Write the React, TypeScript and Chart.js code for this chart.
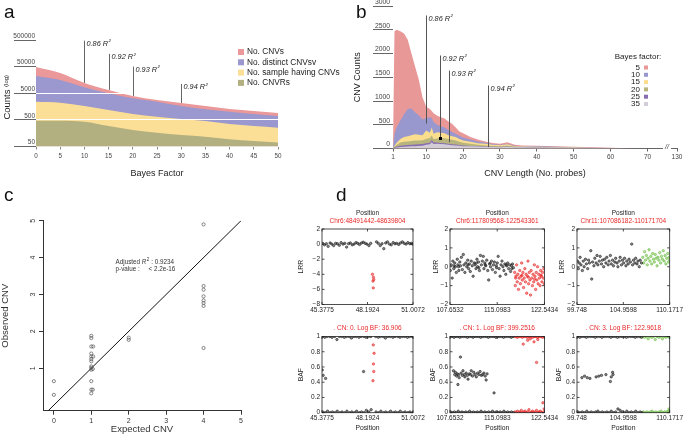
import React, { useEffect, useRef } from "react";
import { Chart, registerables } from "chart.js";
Chart.register(...registerables);

const FONT = "'Liberation Sans', Arial, Helvetica, sans-serif";
Chart.defaults.font.family = FONT;

// ---------- Panel a ----------
const bayesFactor = [0, 5, 10, 15, 20, 25, 30, 35, 40, 45, 50];
const noCNVs = [48700, 29000, 12200, 6650, 3960, 2800, 2160, 1670, 1285, 1080, 910];
const noDistinctCNVsv = [22400, 15800, 8400, 5000, 3240, 2420, 1670, 1250, 1015, 833, 700];
const noSampleHavingCNVs = [2420, 2220, 1670, 1180, 833, 660, 541, 455, 351, 295, 255];
const noCNVRs = [467, 467, 428, 295, 209, 165, 135, 117, 93, 80, 70];
const aLegend = ["No. CNVs", "No. distinct CNVsv", "No. sample having CNVs", "No. CNVRs"];
const aXTicks = [0, 5, 10, 15, 20, 25, 30, 35, 40, 45, 50];
const aYTicks = [50, 500, 5000, 50000, 500000];
const aR2Labels = ["0.86", "0.92", "0.93", "0.94"];
const aR2X = [10, 15, 20, 30];
const aR2Top = [474000, 150000, 50000, 11200];
const aR2Bottom = [12200, 6650, 3960, 2160];

// ---------- Panel b ----------
const cnvLength = [1, 1.4, 2, 3, 4, 5, 6, 7, 8, 9, 10, 11, 11.5, 12, 13, 14, 15, 16, 17, 18, 19, 20, 22, 24, 26, 28, 30, 32, 34, 36, 40, 45, 50, 55, 60, 65, 70];
const bf5 = [0, 2470, 2500, 2470, 2420, 2290, 2000, 1720, 1450, 1080, 880, 830, 790, 740, 690, 660, 630, 570, 520, 440, 360, 320, 240, 190, 150, 115, 100, 130, 80, 65, 60, 50, 35, 25, 15, 5, 0];
const bf10 = [0, 300, 450, 590, 720, 830, 840, 760, 700, 610, 640, 660, 640, 560, 500, 470, 440, 390, 350, 310, 270, 230, 190, 150, 120, 95, 80, 100, 60, 50, 45, 35, 25, 15, 8, 3, 0];
const bf15 = [0, 60, 120, 200, 240, 260, 280, 300, 290, 280, 380, 330, 440, 310, 340, 330, 320, 280, 260, 240, 200, 170, 140, 110, 100, 80, 70, 90, 50, 40, 35, 25, 20, 10, 5, 2, 0];
const bf20 = [0, 40, 80, 125, 140, 150, 160, 170, 170, 175, 200, 220, 275, 200, 210, 225, 215, 200, 185, 170, 140, 120, 100, 80, 65, 55, 50, 60, 40, 30, 25, 20, 15, 8, 4, 1, 0];
const bf25 = [0, 20, 40, 60, 70, 75, 80, 85, 90, 95, 110, 120, 180, 130, 125, 115, 110, 100, 90, 85, 75, 65, 55, 45, 40, 35, 30, 40, 28, 25, 22, 18, 12, 6, 3, 1, 0];
const bf35 = [0, 10, 20, 30, 35, 40, 45, 50, 55, 60, 80, 90, 130, 95, 100, 95, 90, 80, 70, 65, 60, 50, 45, 40, 35, 30, 28, 35, 26, 25, 22, 20, 15, 10, 4, 1, 0];
const bLegend = ["5", "10", "15", "20", "25", "35"];
const bXTickValues = [1, 10, 20, 30, 40, 50, 60, 70, 78];
const bXTickLabels = ["1", "10", "20", "30", "40", "50", "60", "70", "130"];
const bYTicks = [0, 500, 1000, 1500, 2000, 2500, 3000];
const bR2Labels = ["0.86", "0.92", "0.93", "0.94"];
const bR2L = [9.9, 13.8, 16.2, 26.7];
const bR2Top = [2800, 1958, 1640, 1326];
const bR2Bottom = [526, 210, 133, 30];

// ---------- Panel c ----------
const cObserved: [number, number][] = [
  [0, 0.65], [0, 0.28], [1, 1.88], [1, 1.82], [1, 1.59], [1.05, 1.59], [1, 1.4], [1, 1.32], [1.05, 1.32],
  [1, 1.25], [1, 1.19], [1, 1.05], [1, 1.01], [1, 0.96], [1.04, 0.98], [1, 0.65], [1, 0.42], [1, 0.32],
  [1.04, 0.42], [2, 1.83], [2, 1.77], [4, 4.9], [4, 3.23], [4, 3.13], [4, 2.95], [4, 2.84], [4, 2.77],
  [4, 2.69], [4, 1.55],
];
const cFitX = [-0.15, 5];
const cFitY = [-0.15, 5];
const cXTicks = [0, 1, 2, 3, 4, 5];
const cYTicks = [1, 2, 3, 4, 5];

// ---------- Panel d ----------
const d1XTicks = [45.3775, 48.1924, 51.0072];
const d2XTicks = [107.6532, 115.0983, 122.5434];
const d3XTicks = [99.748, 104.9598, 110.1717];
const d1LrrTicks = [-8, -6, -4, -2, 0, 2];
const dLrrTicks = [-2, -1, 0, 1, 2];
const bafTicks = [0, 0.2, 0.4, 0.6, 0.8, 1];
const dRegions = ["Chr6:48491442-48639804", "Chr6:117809568-122543361", "Chr11:107086182-110171704"];
const dCalls = [". CN: 0. Log BF: 36.906", ". CN: 1. Log BF: 399.2516", ". CN: 3. Log BF: 122.9618"];

const d1LrrBlack: [number, number][] = [[45.42,0.1],[45.53,-0.1],[45.65,0.05],[45.76,-0.3],[45.88,0.15],[45.99,0],[46.1,-0.2],[46.22,0.1],[46.33,0.05],[46.45,-0.15],[46.56,0.2],[46.68,0],[46.79,0.1],[46.9,-0.4],[47.02,0.05],[47.13,0.15],[47.25,-0.1],[47.36,0],[47.48,0.2],[47.59,0.1],[47.7,-0.05],[47.82,0.15],[47.93,0.25],[48.05,0.1],[48.16,0],[48.28,-0.2],[48.39,0.1],[48.75,0.3],[48.86,0.1],[48.98,-0.2],[49.09,0.05],[49.2,-0.6],[49.32,0.15],[49.43,0.3],[49.55,0],[49.66,-0.1],[49.78,0.2],[49.89,0.05],[50.0,0.1],[50.12,-0.05],[50.23,0.15],[50.35,0.3],[50.46,0.1],[50.58,0],[50.69,0.2],[50.81,0.05],[50.92,0.1],[50.99,0]];
const d1LrrRed: [number, number][] = [[48.5,-4.0],[48.56,-4.4],[48.58,-4.7],[48.53,-4.9],[48.55,-5.8]];
const d1BafBlack: [number, number][] = [[45.4,1],[45.55,0.99],[45.7,1],[45.86,1],[46.0,0.99],[46.16,1],[46.3,0.96],[46.46,1],[46.6,1],[46.76,0.99],[46.9,1],[47.06,1],[47.2,0.98],[47.36,1],[47.5,1],[47.66,0.99],[47.8,1],[47.96,1],[48.1,0.99],[48.26,1],[48.4,1],[48.7,1],[48.86,0.99],[49.0,1],[49.16,1],[49.3,0.98],[49.46,1],[49.6,1],[49.76,0.99],[49.9,1],[50.06,1],[50.2,0.99],[50.36,1],[50.5,1],[50.66,0.99],[50.8,1],[50.96,1],
  [45.42,0.01],[45.57,0],[45.72,0.02],[45.88,0],[46.02,0.01],[46.18,0],[46.32,0.02],[46.48,0],[46.62,0.01],[46.78,0],[46.92,0.02],[47.08,0],[47.22,0.01],[47.38,0],[47.52,0.02],[47.68,0],[47.82,0.01],[47.98,0],[48.12,0.03],[48.28,0.01],[48.42,0.04],[48.72,0.01],[48.88,0],[49.02,0.02],[49.18,0],[49.32,0.01],[49.48,0],[49.62,0.02],[49.78,0],[49.92,0.01],[50.08,0],[50.22,0.02],[50.38,0],[50.52,0.01],[50.68,0],[50.82,0.01],[50.98,0],
  [45.39,0.56],[45.45,0.49],[45.6,0.45],[47.95,0.54]];
const d1BafRed: [number, number][] = [[48.55,0.89],[48.6,0.78],[48.56,0.64],[48.58,0.54],[48.53,0.42]];

const d2LrrBlack: [number, number][] = [[107.7,-0.2],[107.85,0.1],[108.0,-0.6],[108.1,0.3],[108.25,-0.1],[108.4,0.2],[108.5,0.0],[108.65,-0.3],[108.8,0.4],[108.9,0.1],[109.05,-0.2],[109.2,0.25],[109.3,0.05],[109.45,0.5],[109.6,-0.15],[109.75,0.65],[109.85,0.1],[110.0,-0.3],[110.15,0.2],[110.3,0.0],[110.45,0.35],[110.6,-0.1],[110.7,0.15],[110.85,-0.25],[111.0,0.3],[111.15,0.05],[111.3,-0.5],[111.45,0.2],[111.6,0.1],[111.75,-0.1],[111.9,0.4],[112.0,0.0],[112.15,0.25],[112.3,-0.2],[112.45,0.6],[112.6,0.1],[112.75,0.3],[112.9,0.55],[113.0,-0.1],[113.15,0.2],[113.3,0.05],[113.45,0.35],[113.6,-0.2],[113.75,-0.7],[113.9,0.15],[114.05,0.0],[114.2,0.3],[114.35,-0.15],[114.5,0.1],[114.65,0.25],[114.8,-0.3],[114.95,0.05],[115.1,0.2],[115.25,0.55],[115.4,-0.1],[115.55,-0.5],[115.7,0.1],[115.85,0.3],[116.0,0.0],[116.15,-0.2],[116.3,0.15],[116.45,-0.4],[116.6,0.05],[116.75,0.2],[116.9,-0.1],[117.05,0.1],[117.2,-0.25],[117.35,0.05],[117.5,0.15],[117.65,-0.05],
  [108.3,0.05],[109.0,0.0],[110.5,0.1],[111.8,0.2],[112.2,-0.05],[113.2,0.1],[114.0,0.2],[115.0,-0.05],[116.5,0.1],[117.4,-0.1]];
const d2LrrRed: [number, number][] = [[117.85,-0.3],[117.95,-1.0],[118.05,-0.5],[118.15,0.1],[118.25,-0.8],[118.35,-0.4],[118.45,-1.2],[118.55,-0.6],[118.65,-0.2],[118.75,-0.9],[118.85,-0.5],[118.95,0.2],[119.05,-0.7],[119.15,-0.3],[119.25,-1.1],[119.35,-0.6],[119.45,-0.1],[119.55,-0.8],[119.65,-0.4],[119.75,-1.4],[119.85,-0.5],[119.95,0.3],[120.05,-0.9],[120.15,-0.3],[120.25,-0.7],[120.35,-1.5],[120.45,-0.2],[120.55,-0.6],[120.65,-1.0],[120.75,-0.4],[120.85,-0.8],[120.95,0.1],[121.05,-0.5],[121.15,-1.2],[121.25,-0.3],[121.35,-0.7],[121.45,0.0],[121.55,-0.9],[121.65,-0.4],[121.75,-0.6],[121.85,-1.0],[121.95,-0.2],[122.05,-0.5],[122.15,-0.8],[122.25,-0.3],[122.35,-0.6],[122.45,-0.1],[122.52,-0.9],
  [118.0,-0.6],[119.0,-0.45],[120.0,-0.55],[121.0,-0.65],[122.0,-0.45]];
const d2BafBlack: [number, number][] = [[107.7,1],[108.0,1],[108.3,0.99],[108.6,1],[108.9,1],[109.2,0.99],[109.5,1],[109.8,1],[110.1,1],[110.4,0.99],[110.7,1],[111.0,1],[111.3,0.99],[111.6,1],[111.9,1],[112.2,1],[112.5,0.99],[112.8,1],[113.1,1],[113.4,1],[113.7,0.99],[114.0,1],[114.3,1],[114.6,1],[114.9,0.99],[115.2,1],[115.5,1],[115.8,1],[116.1,0.99],[116.4,1],[116.7,1],[117.0,1],[117.3,0.99],[117.6,1],
  [107.75,0.01],[108.05,0],[108.35,0.01],[108.65,0],[108.95,0.02],[109.25,0],[109.55,0.01],[109.85,0],[110.15,0.01],[110.45,0],[110.75,0.02],[111.05,0],[111.35,0.01],[111.65,0],[111.95,0.01],[112.25,0],[112.55,0.02],[112.85,0],[113.15,0.01],[113.45,0],[113.75,0.01],[114.05,0],[114.35,0.02],[114.65,0],[114.95,0.01],[115.25,0],[115.55,0.01],[115.85,0],[116.15,0.02],[116.45,0],[116.75,0.01],[117.05,0],[117.35,0.01],[117.65,0],
  [108.2,0.55],[108.4,0.5],[108.5,0.53],[108.7,0.48],[108.8,0.51],[108.9,0.37],[109.0,0.5],[109.1,0.46],[109.3,0.73],[109.4,0.52],[109.6,0.49],[109.7,0.55],[109.9,0.5],[110.0,0.47],[110.2,0.52],[110.4,0.49],[110.5,0.44],[110.7,0.51],[110.9,0.5],[111.0,0.55],[111.2,0.48],[111.4,0.53],[111.6,0.5],[111.8,0.47],[112.0,0.52],[112.2,0.5],[112.4,0.54],[112.6,0.49],[112.8,0.5],[113.0,0.52],[113.2,0.48],[113.35,0.43],[113.5,0.51],[114.6,0.26]];
const d2BafRed: [number, number][] = [[117.85,1],[118.05,1],[118.25,0.99],[118.45,1],[118.65,1],[118.85,1],[119.05,0.99],[119.25,1],[119.45,1],[119.65,1],[119.85,0.99],[120.05,1],[120.25,1],[120.45,1],[120.65,0.99],[120.85,1],[121.05,1],[121.25,1],[121.45,0.99],[121.65,1],[121.85,1],[122.05,1],[122.25,0.99],[122.45,1],[119.2,0.9],[119.9,0.95],[120.3,0.97],[120.9,0.93],[121.5,0.96],[121.3,0.66],
  [117.9,0.01],[118.1,0],[118.3,0.02],[118.5,0],[118.7,0.01],[118.9,0.03],[119.1,0],[119.3,0.01],[119.5,0.02],[119.7,0],[119.9,0.01],[120.1,0.04],[120.3,0],[120.5,0.01],[120.7,0.02],[120.9,0],[121.1,0.01],[121.3,0.03],[121.5,0],[121.7,0.01],[121.9,0.02],[122.1,0],[122.3,0.13],[122.4,0.01],[122.5,0.05]];

const d3LrrBlack: [number, number][] = [[99.8,0.3],[99.9,-0.1],[100.0,0.2],[100.1,0.5],[100.2,0.1],[100.35,-0.2],[100.45,0.3],[100.55,0.0],[100.7,0.4],[100.8,0.15],[100.95,-0.1],[101.05,0.35],[101.15,0.2],[101.3,0.85],[101.4,-0.65],[101.5,0.25],[101.65,0.05],[101.75,0.45],[101.9,0.2],[102.0,0.6],[102.1,0.1],[102.25,0.3],[102.35,0.55],[102.5,0.15],[102.6,0.35],[102.75,0.0],[102.85,0.4],[103.0,0.2],[103.1,0.5],[103.25,0.1],[103.35,0.3],[103.5,0.6],[103.6,0.15],[103.75,0.35],[103.85,0.05],[104.0,0.25],[104.1,0.45],[104.25,0.2],[104.35,0.0],[104.5,0.3],[104.6,0.5],[104.75,0.1],[104.85,0.35],[105.0,0.2],[105.1,0.45],[105.25,0.05],[105.35,0.3],[105.5,0.15],[105.6,0.4],[105.75,0.25],[105.9,1.2],[106.0,0.1],[106.1,0.35],[106.25,0.2],[106.35,0.45],[106.5,0.15],[106.6,0.3],[106.75,0.0],[106.85,0.35],[107.0,0.2]];
const d3LrrGreen: [number, number][] = [[107.15,0.5],[107.25,0.2],[107.35,0.8],[107.45,0.35],[107.55,0.6],[107.65,0.1],[107.75,0.45],[107.85,0.9],[107.95,0.3],[108.05,0.55],[108.15,0.15],[108.25,0.7],[108.35,0.4],[108.45,0.25],[108.55,0.65],[108.65,0.45],[108.75,0.05],[108.85,0.5],[108.95,0.35],[109.05,0.75],[109.15,0.2],[109.25,0.55],[109.35,0.4],[109.45,0.85],[109.55,0.3],[109.65,0.6],[109.75,0.15],[109.85,0.45],[109.95,0.7],[110.05,0.25],[110.12,0.5],[110.17,0.35]];
const d3BafBlack: [number, number][] = [[99.8,1],[100.05,0.99],[100.3,1],[100.55,1],[100.8,0.99],[101.05,1],[101.3,1],[101.55,1],[101.8,0.99],[102.05,1],[102.3,1],[102.55,0.99],[102.8,1],[103.05,1],[103.3,1],[103.55,0.99],[103.8,1],[104.05,1],[104.3,0.99],[104.55,1],[104.8,1],[105.05,1],[105.3,0.99],[105.55,1],[105.8,1],[106.05,1],[106.3,0.99],[106.55,1],[106.8,1],[107.0,0.99],
  [99.85,0.01],[100.1,0],[100.35,0.01],[100.6,0],[100.85,0.02],[101.1,0],[101.35,0.01],[101.6,0],[101.85,0.01],[102.1,0.02],[102.35,0],[102.6,0.01],[102.85,0],[103.1,0.01],[103.35,0],[103.6,0.02],[103.85,0],[104.1,0.01],[104.35,0.05],[104.6,0.03],[104.85,0.01],[105.1,0],[105.35,0.02],[105.6,0],[105.85,0.01],[106.1,0],[106.35,0.02],[106.6,0],[106.85,0.01],[107.05,0],
  [100.3,0.46],[100.6,0.48],[100.9,0.46],[101.2,0.45],[101.9,0.47],[102.2,0.48],[102.5,0.49],[103.0,0.5],[103.5,0.41],[103.6,0.47],[103.75,0.53],[103.8,0.5]];
const d3BafGreen: [number, number][] = [[107.15,1],[107.35,0.99],[107.55,1],[107.75,0.97],[107.95,1],[108.15,0.99],[108.35,1],[108.55,0.96],[108.75,1],[108.95,0.99],[109.15,1],[109.35,0.97],[109.55,1],[109.75,0.99],[109.95,1],[110.12,0.99],
  [107.2,0.01],[107.4,0],[107.6,0.01],[107.8,0],[108.0,0.01],[108.2,0.02],[108.4,0],[108.6,0.01],[108.8,0],[109.0,0.01],[109.2,0.02],[109.4,0],[109.6,0.01],[109.8,0.01],[110.0,0.02],[110.1,0.05],[110.15,0.03]];

// ---------- helpers ----------
function drawR2(ctx: CanvasRenderingContext2D, label: string, x: number, y: number, size: number) {
  ctx.font = `italic ${size}px ${FONT}`;
  ctx.fillStyle = "#222";
  ctx.textAlign = "left";
  ctx.textBaseline = "middle";
  const t = label + " R";
  ctx.fillText(t, x, y);
  const w = ctx.measureText(t).width;
  ctx.font = `italic ${size * 0.6}px ${FONT}`;
  ctx.fillText("2", x + w + 0.5, y - size * 0.35);
}

function configA(): any {
  const colors = ["rgb(234,152,154)", "rgb(154,152,206)", "rgb(252,223,150)", "rgb(178,176,128)"];
  const series = [noCNVs, noDistinctCNVsv, noSampleHavingCNVs, noCNVRs];
  const annot = {
    id: "aAnnot",
    afterDraw(chart: any) {
      const { ctx, scales, chartArea } = chart;
      const x = scales.x, y = scales.y;
      ctx.save();
      ctx.strokeStyle = "#666";
      ctx.lineWidth = 1;
      aR2X.forEach((bf, i) => {
        const px = Math.round(x.getPixelForValue(bf)) + 0.5;
        const y1 = y.getPixelForValue(aR2Top[i]);
        const y2 = y.getPixelForValue(aR2Bottom[i]);
        ctx.beginPath(); ctx.moveTo(px, y1); ctx.lineTo(px, y2); ctx.stroke();
        drawR2(ctx, aR2Labels[i], px + 2, y1 + 3, 7.3);
      });
      chart.data.datasets.forEach((ds: any, i: number) => {
        const ly = 52 + i * 10.3;
        ctx.fillStyle = ds.backgroundColor;
        ctx.fillRect(238, ly - 3, 6, 6);
        ctx.fillStyle = "#222";
        ctx.font = `8.3px ${FONT}`;
        ctx.textAlign = "left";
        ctx.textBaseline = "middle";
        ctx.fillText(ds.label, 247, ly);
      });
      ctx.save();
      ctx.translate(7, (chartArea.top + chartArea.bottom) / 2 + 4);
      ctx.rotate(-Math.PI / 2);
      ctx.fillStyle = "#222";
      ctx.textBaseline = "middle";
      ctx.font = `9.5px ${FONT}`;
      const w1 = ctx.measureText("Counts ").width;
      ctx.font = `6px ${FONT}`;
      const w2 = ctx.measureText("(log)").width;
      let sx = -(w1 + w2) / 2;
      ctx.textAlign = "left";
      ctx.font = `9.5px ${FONT}`;
      ctx.fillText("Counts ", sx, 0);
      sx += w1;
      ctx.font = `6px ${FONT}`;
      ctx.fillText("(log)", sx, -0.5);
      ctx.restore();
      ctx.restore();
    },
  };
  return {
    type: "line",
    data: {
      datasets: series.map((s, i) => ({
        label: aLegend[i],
        data: bayesFactor.map((b, j) => ({ x: b, y: s[j] })),
        fill: "start",
        backgroundColor: colors[i],
        borderWidth: 0,
        pointRadius: 0,
        tension: 0.4,
        cubicInterpolationMode: "monotone",
        order: 4 - i,
      })),
    },
    options: {
      responsive: false, animation: false, devicePixelRatio: 1,
      layout: { padding: { top: 40, right: 62, left: 0, bottom: 0 } },
      plugins: { legend: { display: false }, tooltip: { enabled: false } },
      scales: {
        x: {
          type: "linear", min: 0, max: 50,
          afterBuildTicks: (s: any) => { s.ticks = aXTicks.map((v) => ({ value: v })); },
          ticks: { font: { size: 6.3 }, color: "#444", padding: 3, maxRotation: 0, autoSkip: false },
          grid: { drawOnChartArea: false, tickLength: 3, tickColor: "#888" },
          border: { display: false },
          title: { display: true, text: "Bayes Factor", font: { size: 9 }, color: "#222", padding: { top: 0, bottom: 6 } },
          afterFit: (s: any) => { s.height = 38.5; },
        },
        y: {
          type: "logarithmic", min: 50, max: 500000,
          afterBuildTicks: (s: any) => { s.ticks = aYTicks.map((v) => ({ value: v })); },
          ticks: { font: { size: 6.5 }, color: "#444", padding: -21, labelOffset: -4, callback: (v: any) => String(v) },
          grid: {
            z: 1,
            color: (c: any) => (c.tick && (c.tick.value === 500 || c.tick.value === 5000) ? "#ffffff" : "rgba(0,0,0,0)"),
            tickColor: "#666", tickLength: 22, lineWidth: 1,
          },
          border: { display: false },
          title: { display: false },
          afterFit: (s: any) => { s.width = 36; },
        },
      },
    },
    plugins: [annot],
  };
}

function configB(): any {
  const colors = ["rgb(233,152,152)", "rgb(152,152,206)", "rgb(250,222,142)", "rgb(184,180,126)", "rgb(136,110,176)", "rgb(210,205,215)"];
  const series = [bf5, bf10, bf15, bf20, bf25, bf35];
  const annot = {
    id: "bAnnot",
    afterDraw(chart: any) {
      const { ctx, scales, chartArea } = chart;
      const x = scales.x, y = scales.y;
      ctx.save();
      ctx.lineWidth = 1;
      bR2L.forEach((L, i) => {
        const px = Math.round(x.getPixelForValue(L)) + 0.5;
        const y1 = y.getPixelForValue(bR2Top[i]);
        const y2 = y.getPixelForValue(bR2Bottom[i]);
        ctx.strokeStyle = "#555";
        ctx.beginPath(); ctx.moveTo(px, y1); ctx.lineTo(px, y2); ctx.stroke();
        drawR2(ctx, bR2Labels[i], px + 2, y1 + 3, 7.3);
        if (i === 1) {
          ctx.fillStyle = "#000";
          ctx.fillRect(px - 1.5, y2 - 1.5, 3, 3);
        }
      });
      const bx = x.getPixelForValue(75.3);
      ctx.fillStyle = "#fff";
      ctx.fillRect(bx - 4, chartArea.bottom - 2, 8, 4);
      ctx.fillStyle = "#444";
      ctx.font = `italic 7px ${FONT}`;
      ctx.textAlign = "center";
      ctx.textBaseline = "middle";
      ctx.fillText("//", bx, chartArea.bottom - 1);
      ctx.fillStyle = "#222";
      ctx.font = `8px ${FONT}`;
      ctx.textAlign = "center";
      ctx.fillText("Bayes factor:", 298, 57);
      chart.data.datasets.forEach((ds: any, i: number) => {
        const ly = 67.5 + i * 7.3;
        ctx.fillStyle = "#222";
        ctx.font = `8px ${FONT}`;
        ctx.textAlign = "right";
        ctx.fillText(ds.label, 300, ly);
        ctx.fillStyle = ds.backgroundColor;
        ctx.fillRect(304, ly - 2, 4, 4);
      });
      ctx.restore();
    },
  };
  return {
    type: "line",
    data: {
      datasets: series.map((s, i) => ({
        label: bLegend[i],
        data: cnvLength.map((L, j) => ({ x: L, y: s[j] })),
        fill: "origin",
        backgroundColor: colors[i],
        borderWidth: 0,
        pointRadius: 0,
        tension: 0,
        order: 6 - i,
      })),
    },
    options: {
      responsive: false, animation: false, devicePixelRatio: 1,
      layout: { padding: { top: 6, right: 8, left: 0, bottom: 0 } },
      plugins: { legend: { display: false }, tooltip: { enabled: false } },
      scales: {
        x: {
          type: "linear", min: 1, max: 78,
          afterBuildTicks: (s: any) => { s.ticks = bXTickValues.map((v) => ({ value: v })); },
          ticks: { font: { size: 6.5 }, color: "#444", padding: 2, maxRotation: 0, autoSkip: false, callback: (_v: any, i: number) => bXTickLabels[i] },
          grid: { drawOnChartArea: false, tickLength: 3, tickColor: "#666" },
          border: { display: true, color: "#666", width: 1 },
          title: { display: true, text: "CNV Length (No. probes)", font: { size: 9 }, color: "#222", padding: { top: 0, bottom: 6.5 } },
          afterFit: (s: any) => { s.height = 36.5; },
        },
        y: {
          type: "linear", min: 0, max: 3000,
          afterBuildTicks: (s: any) => { s.ticks = bYTicks.map((v) => ({ value: v })); },
          ticks: { font: { size: 6.8 }, color: "#444", padding: -17, labelOffset: -4, callback: (v: any) => String(v) },
          grid: { drawOnChartArea: false, tickLength: 20, tickColor: "#666" },
          border: { display: false },
          title: { display: true, text: "CNV Counts", font: { size: 9 }, color: "#222", padding: { top: 12, bottom: 0 } },
          afterFit: (s: any) => { s.width = 53; },
        },
      },
    },
    plugins: [annot],
  };
}

function configC(): any {
  const annot = {
    id: "cAnnot",
    afterDraw(chart: any) {
      const { ctx, scales, chartArea } = chart;
      const x = scales.x, y = scales.y;
      ctx.save();
      ctx.fillStyle = "#333";
      ctx.font = `7px ${FONT}`;
      ctx.textAlign = "center";
      ctx.textBaseline = "middle";
      y.ticks.forEach((t: any) => {
        const py = y.getPixelForValue(t.value);
        ctx.save();
        ctx.translate(chartArea.left - 10, py);
        ctx.rotate(-Math.PI / 2);
        ctx.fillText(String(t.value), 0, 0);
        ctx.restore();
      });
      const tx = x.getPixelForValue(1.65);
      const ty1 = y.getPixelForValue(3.88);
      const ty2 = y.getPixelForValue(3.69);
      ctx.textAlign = "left";
      ctx.font = `6.3px ${FONT}`;
      let cx = tx;
      ctx.fillText("Adjusted ", cx, ty1);
      cx += ctx.measureText("Adjusted ").width;
      ctx.font = `italic 6.3px ${FONT}`;
      ctx.fillText("R", cx, ty1);
      cx += ctx.measureText("R").width;
      ctx.font = `4.5px ${FONT}`;
      ctx.fillText("2", cx + 0.3, ty1 - 2.5);
      cx += ctx.measureText("2").width + 0.5;
      ctx.font = `6.3px ${FONT}`;
      ctx.fillText(" : 0.9234", cx, ty1);
      ctx.fillText("p-value :     < 2.2e-16", tx, ty2);
      ctx.restore();
    },
  };
  return {
    type: "scatter",
    data: {
      datasets: [
        {
          type: "scatter",
          data: cObserved.map(([a, b]) => ({ x: a, y: b })),
          pointRadius: 1.6, pointBorderWidth: 0.7,
          borderColor: "#555", backgroundColor: "rgba(0,0,0,0)",
        },
        {
          type: "line",
          data: cFitX.map((v, i) => ({ x: v, y: cFitY[i] })),
          borderColor: "#111", borderWidth: 1, pointRadius: 0, fill: false, tension: 0,
        },
      ],
    },
    options: {
      responsive: false, animation: false, devicePixelRatio: 1,
      layout: { padding: { top: 25.7, right: 59, left: 0, bottom: 0 } },
      plugins: { legend: { display: false }, tooltip: { enabled: false } },
      scales: {
        x: {
          type: "linear", min: -0.29, max: 5,
          afterBuildTicks: (s: any) => { s.ticks = cXTicks.map((v) => ({ value: v })); },
          ticks: { font: { size: 7 }, color: "#333", padding: 2, maxRotation: 0, autoSkip: false },
          grid: { drawOnChartArea: false, tickLength: 4, tickColor: "#333" },
          border: { color: "#333", width: 1 },
          title: { display: true, text: "Expected CNV", font: { size: 9.5 }, color: "#333", padding: { top: 0, bottom: 0.5 } },
          afterFit: (s: any) => { s.height = 25.3; },
        },
        y: {
          type: "linear", min: -0.15, max: 5,
          afterBuildTicks: (s: any) => { s.ticks = cYTicks.map((v) => ({ value: v })); },
          ticks: { display: false },
          grid: { drawOnChartArea: false, tickLength: 4, tickColor: "#333" },
          border: { color: "#333", width: 1 },
          title: { display: true, text: "Observed CNV", font: { size: 9.5 }, color: "#333", padding: { top: 0, bottom: 0 } },
          afterFit: (s: any) => { s.width = 43; },
        },
      },
    },
    plugins: [annot],
  };
}

type DSeries = { pts: [number, number][]; stroke: string; fill: string };
type DOpts = {
  series: DSeries[]; xTicks: number[]; yTicks: number[]; yTitle: string; yTitlePad: number;
  row: 1 | 2; col: number; yW: number; padRight: number;
};

function configD(p: DOpts): any {
  const red = "rgb(232,40,40)";
  const decor = {
    id: "dDecor",
    afterDraw(chart: any) {
      const { ctx, chartArea: a, scales } = chart;
      ctx.save();
      ctx.strokeStyle = "#222";
      ctx.lineWidth = 0.8;
      ctx.strokeRect(a.left, a.top, a.right - a.left, a.bottom - a.top);
      const tl = 2.5;
      ctx.beginPath();
      scales.x.ticks.forEach((t: any) => {
        const px = scales.x.getPixelForValue(t.value);
        ctx.moveTo(px, a.bottom); ctx.lineTo(px, a.bottom - tl);
        ctx.moveTo(px, a.top); ctx.lineTo(px, a.top + tl);
      });
      scales.y.ticks.forEach((t: any) => {
        const py = scales.y.getPixelForValue(t.value);
        ctx.moveTo(a.left, py); ctx.lineTo(a.left + tl, py);
        ctx.moveTo(a.right, py); ctx.lineTo(a.right - tl, py);
      });
      ctx.stroke();
      const cx = (a.left + a.right) / 2;
      ctx.textAlign = "center";
      ctx.textBaseline = "middle";
      ctx.font = `6.5px ${FONT}`;
      if (p.row === 1) {
        ctx.fillStyle = "#222";
        ctx.fillText("Position", cx, a.top - 16);
        ctx.fillStyle = red;
        ctx.fillText(dRegions[p.col], cx, a.top - 8);
      } else {
        ctx.fillStyle = red;
        ctx.fillText(dCalls[p.col], cx, a.top - 8);
      }
      ctx.restore();
    },
  };
  const fmt = (v: number) => (v < 0 ? "\u2212" + Math.abs(v) : String(v));
  return {
    type: "scatter",
    data: {
      datasets: p.series.map((s) => ({
        data: s.pts.map(([x, y]) => ({ x, y })),
        pointRadius: 1.2, pointBorderWidth: 0.6,
        borderColor: s.stroke, backgroundColor: s.fill,
      })),
    },
    options: {
      responsive: false, animation: false, devicePixelRatio: 1,
      layout: { padding: { top: p.row === 1 ? 24 : 14.5, right: p.padRight, left: 0, bottom: 0 } },
      plugins: { legend: { display: false }, tooltip: { enabled: false } },
      scales: {
        x: {
          type: "linear", min: p.xTicks[0], max: p.xTicks[p.xTicks.length - 1],
          afterBuildTicks: (s: any) => { s.ticks = p.xTicks.map((v) => ({ value: v })); },
          ticks: { font: { size: 6.5 }, color: "#222", padding: 2, maxRotation: 0, autoSkip: false, callback: (v: any) => String(v) },
          grid: { drawOnChartArea: false, drawTicks: false },
          border: { display: false },
          title: { display: p.row === 2, text: "Position", font: { size: 6.8 }, color: "#222", padding: { top: 0, bottom: 3.5 } },
          afterFit: (s: any) => { s.height = p.row === 1 ? 13.5 : 23.3; },
        },
        y: {
          type: "linear", min: p.yTicks[0], max: p.yTicks[p.yTicks.length - 1],
          afterBuildTicks: (s: any) => { s.ticks = p.yTicks.map((v) => ({ value: v })); },
          ticks: { font: { size: 6.5 }, color: "#222", padding: 2, callback: (v: any) => fmt(v) },
          grid: { drawOnChartArea: false, drawTicks: false },
          border: { display: false },
          title: { display: true, text: p.yTitle, font: { size: 6.8 }, color: "#222", padding: { top: p.yTitlePad, bottom: 0 } },
          afterFit: (s: any) => { s.width = p.yW; },
        },
      },
    },
    plugins: [decor],
  };
}

function ChartBox(props: { left: number; top: number; width: number; height: number; make: () => any }) {
  const ref = useRef<HTMLCanvasElement>(null);
  useEffect(() => {
    const chart = new Chart(ref.current as HTMLCanvasElement, props.make());
    return () => chart.destroy();
  }, []);
  const { left, top, width, height } = props;
  return (
    <div style={{ position: "absolute", left, top, width, height }}>
      <canvas ref={ref} width={width} height={height} style={{ display: "block", width, height }} />
    </div>
  );
}

const BLACK: [string, string] = ["rgba(25,25,25,0.95)", "rgba(40,40,40,0.55)"];
const REDC: [string, string] = ["rgb(232,40,40)", "rgba(232,40,40,0.5)"];
const GREENC: [string, string] = ["rgb(110,190,70)", "rgba(110,190,70,0.5)"];
const ser = (pts: [number, number][], c: [string, string]): DSeries => ({ pts, stroke: c[0], fill: c[1] });

const dCharts = [
  { left: 290, top: 205, width: 140, height: 113, opts: { series: [ser(d1LrrBlack, BLACK), ser(d1LrrRed, REDC)], xTicks: d1XTicks, yTicks: d1LrrTicks, yTitle: "LRR", yTitlePad: 7.5, row: 1, col: 0, yW: 32, padRight: 17 } },
  { left: 420, top: 205, width: 140, height: 113, opts: { series: [ser(d2LrrBlack, BLACK), ser(d2LrrRed, REDC)], xTicks: d2XTicks, yTicks: dLrrTicks, yTitle: "LRR", yTitlePad: 12.5, row: 1, col: 1, yW: 30, padRight: 14 } },
  { left: 548, top: 205, width: 137, height: 113, opts: { series: [ser(d3LrrBlack, BLACK), ser(d3LrrGreen, GREENC)], xTicks: d3XTicks, yTicks: dLrrTicks, yTitle: "LRR", yTitlePad: 10.5, row: 1, col: 2, yW: 29, padRight: 14 } },
  { left: 290, top: 322, width: 140, height: 114, opts: { series: [ser(d1BafBlack, BLACK), ser(d1BafRed, REDC)], xTicks: d1XTicks, yTicks: bafTicks, yTitle: "BAF", yTitlePad: 7.5, row: 2, col: 0, yW: 32, padRight: 17 } },
  { left: 420, top: 322, width: 140, height: 114, opts: { series: [ser(d2BafBlack, BLACK), ser(d2BafRed, REDC)], xTicks: d2XTicks, yTicks: bafTicks, yTitle: "BAF", yTitlePad: 8.8, row: 2, col: 1, yW: 30, padRight: 14 } },
  { left: 548, top: 322, width: 137, height: 114, opts: { series: [ser(d3BafBlack, BLACK), ser(d3BafGreen, GREENC)], xTicks: d3XTicks, yTicks: bafTicks, yTitle: "BAF", yTitlePad: 6.8, row: 2, col: 2, yW: 29, padRight: 14 } },
];

const labelStyle = (left: number, top: number): React.CSSProperties => ({
  position: "absolute", left, top, fontSize: 19, lineHeight: "19px", fontFamily: FONT, color: "#111",
});

export default function App() {
  return (
    <div style={{ position: "absolute", left: 0, top: 0, width: 685, height: 436, background: "#fff", overflow: "hidden" }}>
      <ChartBox left={0} top={0} width={340} height={185} make={configA} />
      <ChartBox left={340} top={0} width={345} height={185} make={configB} />
      <ChartBox left={0} top={195} width={300} height={241} make={configC} />
      {dCharts.map((d, i) => (
        <ChartBox key={i} left={d.left} top={d.top} width={d.width} height={d.height} make={() => configD(d.opts as DOpts)} />
      ))}
      <div style={labelStyle(4, 2)}>a</div>
      <div style={labelStyle(356, 2)}>b</div>
      <div style={labelStyle(4, 185)}>c</div>
      <div style={labelStyle(336, 185)}>d</div>
    </div>
  );
}
